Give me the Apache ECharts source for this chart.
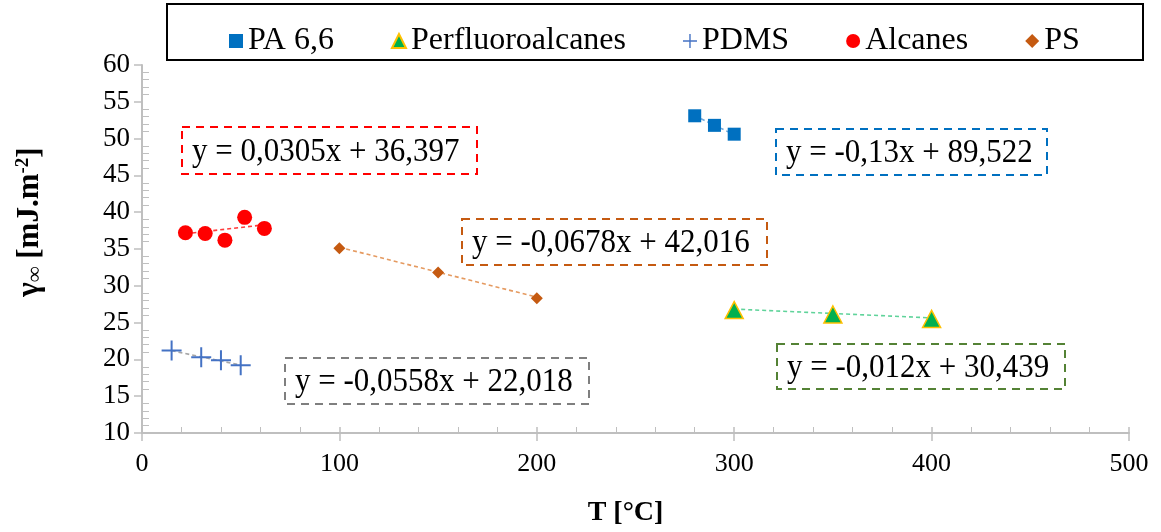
<!DOCTYPE html>
<html>
<head>
<meta charset="utf-8">
<script src="https://cdn.jsdelivr.net/npm/echarts@6/dist/echarts.min.js"></script>
<style>
html,body{margin:0;padding:0;background:#fff;}
#chart{width:1161px;height:532px;}
</style>
</head>
<body>
<div id="chart"></div>
<script>
// ---- data ----
const seriesNames = ['PA 6,6', 'Perfluoroalcanes', 'PDMS', 'Alcanes', 'PS'];
const paX = [280, 290, 300];
const paY = [53.1, 51.8, 50.6];
const pfX = [300, 350, 400];
const pfY = [26.7, 26.1, 25.5];
const pdmsX = [15, 30, 40, 50];
const pdmsY = [21.2, 20.3, 19.9, 19.2];
const alcX = [22, 32, 42, 52, 62];
const alcY = [37.2, 37.1, 36.2, 39.3, 37.8];
const psX = [100, 150, 200];
const psY = [35.1, 31.8, 28.3];
// trendline end points (from the printed equations)
const paTrend = [[280, 53.12], [300, 50.52]];
const pfTrend = [[300, 26.84], [400, 25.64]];
const pdmsTrend = [[15, 21.18], [50, 19.23]];
const alcTrend = [[22, 37.07], [62, 38.29]];
const psTrend = [[100, 35.24], [200, 28.46]];
const equations = ['y = 0,0305x + 36,397', 'y = -0,13x + 89,522', 'y = -0,0678x + 42,016', 'y = -0,0558x + 22,018', 'y = -0,012x + 30,439'];
const xTicks = [0, 100, 200, 300, 400, 500];
const yTicks = [10, 15, 20, 25, 30, 35, 40, 45, 50, 55, 60];

const FONT = "'Liberation Serif', 'Times New Roman', serif";
const zip = (xs, ys) => xs.map((x, i) => [x, ys[i]]);
const plusPath = 'path://M9,0 H11 V9 H20 V11 H11 V20 H9 V11 H0 V9 H9 Z';
const axisGray = '#bfbfbf';

const chart = echarts.init(document.getElementById('chart'), null, {renderer: 'canvas'});

function trend(data, color) {
  return {
    type: 'line', data: data, showSymbol: false, symbol: 'none', silent: true,
    xAxisIndex: 0, yAxisIndex: 0, z: 1,
    lineStyle: {color: color, width: 1.6, type: [4, 3]}
  };
}

function box(x, y, w, h, color, text) {
  return [
    {type: 'rect', shape: {x: x, y: y, width: w, height: h},
     style: {fill: '#fff', stroke: color, lineWidth: 2, lineDash: [8, 6]}, z: 10},
    {type: 'text', x: x + 10, y: y + h / 2 + 1, scaleY: 1.12,
     style: {text: text, x: 0, y: 0, fill: '#000', font: '31px ' + FONT, textVerticalAlign: 'middle', textAlign: 'left'}, z: 11}
  ];
}

const option = {
  animation: false,
  backgroundColor: '#fff',
  grid: {left: 142, right: 32, top: 65, bottom: 98, containLabel: false},
  legend: {
    data: seriesNames,
    left: 224, top: 20,
    itemGap: 57, itemWidth: 14, itemHeight: 14,
    textStyle: {fontFamily: FONT, fontSize: 32, color: '#000'}
  },
  xAxis: [{
    type: 'value', min: 0, max: 500, interval: 100, position: 'bottom',
    name: 'T [°C]', nameLocation: 'middle', nameGap: 66,
    nameTextStyle: {fontFamily: FONT, fontSize: 28, fontWeight: 'bold', color: '#000', padding: [0, 20, 0, 0]},
    axisLine: {show: true, onZero: false, lineStyle: {color: axisGray, width: 2}},
    axisTick: {show: true, length: 8, lineStyle: {color: axisGray, width: 1.5}},
    axisLabel: {fontFamily: FONT, fontSize: 26, color: '#000', margin: 18,
      formatter: v => (xTicks.indexOf(v) >= 0 ? String(v) : '')},
    splitLine: {show: false}
  }, {
    type: 'value', min: 0, max: 500, interval: 100, position: 'bottom',
    axisLine: {show: false, onZero: false},
    axisTick: {show: true, inside: true, length: 6, lineStyle: {color: axisGray, width: 1.5}},
    minorTick: {show: true, splitNumber: 5, length: 6, lineStyle: {color: axisGray, width: 1}},
    axisLabel: {show: false}, splitLine: {show: false}
  }],
  yAxis: [{
    type: 'value', min: 10, max: 60, interval: 5, position: 'left',
    axisLine: {show: true, onZero: false, lineStyle: {color: axisGray, width: 2}},
    axisTick: {show: true, length: 8, lineStyle: {color: axisGray, width: 1.5}},
    axisLabel: {fontFamily: FONT, fontSize: 27, color: '#000', margin: 12,
      formatter: v => (yTicks.indexOf(v) >= 0 ? String(v) : '')},
    splitLine: {show: false}
  }, {
    type: 'value', min: 10, max: 60, interval: 5, position: 'left',
    axisLine: {show: false, onZero: false},
    axisTick: {show: false, inside: true},
    minorTick: {show: true, splitNumber: 5, length: 7, lineStyle: {color: axisGray, width: 1}},
    axisLabel: {show: false}, splitLine: {show: false}
  }],
  series: [
    trend(paTrend, '#6fa8dc'),
    trend(pfTrend, '#5fd39a'),
    trend(pdmsTrend, '#a6a6a6'),
    trend(alcTrend, '#ff3b3b'),
    trend(psTrend, '#e59a60'),
    {name: 'PA 6,6', type: 'scatter', data: zip(paX, paY), symbol: 'rect', symbolSize: 13,
     itemStyle: {color: '#0070c0', opacity: 1}, z: 5},
    {name: 'Perfluoroalcanes', type: 'scatter', data: zip(pfX, pfY), symbol: 'triangle', symbolSize: [18, 17],
     itemStyle: {color: '#00b050', borderColor: '#ffc000', borderWidth: 1.5, opacity: 1}, z: 5},
    {name: 'PDMS', type: 'scatter', data: zip(pdmsX, pdmsY), symbol: plusPath, symbolSize: 20,
     itemStyle: {color: '#4472c4', opacity: 1}, z: 5},
    {name: 'Alcanes', type: 'scatter', data: zip(alcX, alcY), symbol: 'circle', symbolSize: 15,
     itemStyle: {color: '#ff0000', opacity: 1}, z: 5},
    {name: 'PS', type: 'scatter', data: zip(psX, psY), symbol: 'diamond', symbolSize: 12,
     itemStyle: {color: '#c55a11', opacity: 1}, z: 5}
  ],
  graphic: [
    {type: 'rect', shape: {x: 167, y: 4, width: 976, height: 56},
     style: {fill: 'none', stroke: '#000', lineWidth: 2}, z: 10},
    {type: 'text', x: 30, y: 222, rotation: Math.PI / 2,
     style: {
       text: '{b|γ}{s|∞}{b| [mJ.m}{sup|-2}{b|]}',
       textAlign: 'center', textVerticalAlign: 'middle', fill: '#000',
       rich: {
         b: {fontFamily: FONT, fontSize: 31, fontWeight: 'bold', fill: '#000'},
         s: {fontFamily: FONT, fontSize: 22, fontWeight: 'bold', fill: '#000', verticalAlign: 'bottom', padding: [10, 0, 0, 0]},
         sup: {fontFamily: FONT, fontSize: 19, fontWeight: 'bold', fill: '#000', verticalAlign: 'top', padding: [0, 0, 12, 0]}
       }
     }, z: 10}
  ]
    .concat(box(182, 127, 295, 47, '#ff0000', equations[0]))
    .concat(box(776, 129, 271, 46, '#0070c0', equations[1]))
    .concat(box(462, 219, 305, 46, '#c55a11', equations[2]))
    .concat(box(285, 358, 304, 46, '#7f7f7f', equations[3]))
    .concat(box(777, 344, 288, 45, '#548235', equations[4]))
};
chart.setOption(option);
</script>
</body>
</html>
